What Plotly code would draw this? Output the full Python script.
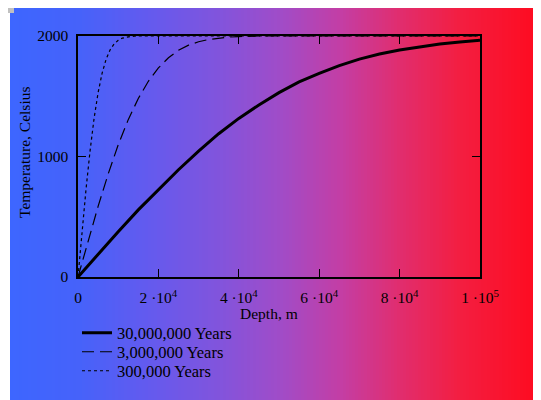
import plotly.graph_objects as go

# ---- data ----
depth_30my = [0, 5000, 10000, 15000, 20000, 25000, 30000, 35000, 40000, 45000, 50000,
              55000, 60000, 65000, 70000, 75000, 80000, 85000, 90000, 95000, 100000]
temp_30my = [0, 189, 376, 557, 725, 890, 1045, 1189, 1316, 1428, 1530,
             1619, 1690, 1754, 1808, 1850, 1884, 1912, 1934, 1951, 1964]

depth_3my = [0, 2500, 5000, 7500, 10000, 12500, 15000, 17500, 20000, 22500, 25000,
             27500, 30000, 32500, 35000, 37500, 40000, 45000, 100000]
temp_3my = [0, 298, 586, 854, 1097, 1306, 1481, 1624, 1735, 1819, 1882,
            1924, 1952, 1971, 1983, 1991, 1995, 2000, 2000]

depth_03my = [0, 1000, 2000, 3000, 4000, 5000, 6000, 7000, 8000, 9000, 10000,
              11000, 12000, 13000, 14000, 15000, 100000]
temp_03my = [0, 376, 730, 1047, 1316, 1530, 1692, 1808, 1886, 1935, 1964,
             1982, 1991, 1996, 1998, 2000, 2000]

series_names = ["30,000,000 Years", "3,000,000 Years", "300,000 Years"]

x_tickvals = [0, 20000, 40000, 60000, 80000, 100000]
x_ticktext = ["0", "2 ·10<sup>4</sup>", "4 ·10<sup>4</sup>", "6 ·10<sup>4</sup>",
              "8 ·10<sup>4</sup>", "1 ·10<sup>5</sup>"]
y_tickvals = [0, 1000, 2000]
y_ticktext = ["0", "1000", "2000"]
x_title = "Depth, m"
y_title = "Temperature, Celsius"

# ---- figure (page body has an 8px margin, so figure coords = page coords - 8) ----
OFF = 8
W, H = 533, 392
L, R, T, B = 70, 61, 28, 123
pw, ph = W - L - R, H - T - B

FONT = "Liberation Serif, Times New Roman, serif"

def px2paper_x(fx):
    return (fx - L) / pw

def px2paper_y(fy):
    return (H - B - fy) / ph

fig = go.Figure()
fig.add_trace(go.Scatter(x=depth_30my, y=temp_30my, mode="lines", name=series_names[0],
                         line=dict(color="black", width=3), legend="legend"))
fig.add_trace(go.Scatter(x=depth_3my, y=temp_3my, mode="lines", name=series_names[1],
                         line=dict(color="black", width=1.2, dash="12px,6px"), legend="legend2"))
fig.add_trace(go.Scatter(x=depth_03my, y=temp_03my, mode="lines", name=series_names[2],
                         line=dict(color="black", width=1.2, dash="3px,3px"), legend="legend3"))

# background gradient as thin strips
stops = [(10, (61, 102, 255)), (80, (70, 98, 250)), (150, (100, 90, 238)),
         (220, (130, 84, 220)), (280, (160, 76, 200)), (340, (195, 62, 165)),
         (400, (225, 45, 110)), (460, (243, 30, 65)), (541, (255, 10, 30))]

def color_at(page_x):
    for (x0, c0), (x1, c1) in zip(stops[:-1], stops[1:]):
        if x0 <= page_x <= x1:
            t = (page_x - x0) / (x1 - x0)
            return "rgb(%d,%d,%d)" % tuple(round(a + (b - a) * t) for a, b in zip(c0, c1))
    return "rgb(%d,%d,%d)" % stops[-1][1]

shapes = []
step = 3
fx = 10 - OFF
while fx < W:
    shapes.append(dict(type="rect", xref="paper", yref="paper",
                       x0=px2paper_x(fx), x1=px2paper_x(min(fx + step + 0.6, W + 2)),
                       y0=px2paper_y(H + 2), y1=px2paper_y(8 - OFF),
                       fillcolor=color_at(fx + OFF + step / 2), line=dict(width=0),
                       layer="below"))
    fx += step
# small gray square top-left
shapes.append(dict(type="rect", xref="paper", yref="paper",
                   x0=px2paper_x(8 - OFF), x1=px2paper_x(14 - OFF),
                   y0=px2paper_y(13 - OFF), y1=px2paper_y(8 - OFF),
                   fillcolor="rgb(192,192,192)", line=dict(width=0), layer="below"))

leg_common = dict(xanchor="left", yanchor="middle", bgcolor="rgba(0,0,0,0)",
                  font=dict(family=FONT, size=16.5, color="black"), itemwidth=30)
leg_x = px2paper_x(77 - OFF)

annotations = [
    dict(text=x_title, xref="paper", yref="paper",
         x=px2paper_x(269 - OFF), y=px2paper_y(313 - OFF),
         xanchor="center", yanchor="middle", showarrow=False,
         font=dict(family=FONT, size=15.5, color="black")),
    dict(text=y_title, xref="paper", yref="paper", textangle=-90,
         x=px2paper_x(24 - OFF), y=px2paper_y(152 - OFF),
         xanchor="center", yanchor="middle", showarrow=False,
         font=dict(family=FONT, size=15.5, color="black")),
]

fig.update_layout(
    width=W, height=H,
    margin=dict(l=L, r=R, t=T, b=B, autoexpand=False),
    paper_bgcolor="white",
    plot_bgcolor="rgba(0,0,0,0)",
    font=dict(family=FONT, size=15.5, color="black"),
    shapes=shapes,
    annotations=annotations,
    showlegend=True,
    legend=dict(x=leg_x, y=px2paper_y(333 - OFF), **leg_common),
    legend2=dict(x=leg_x, y=px2paper_y(352 - OFF), **leg_common),
    legend3=dict(x=leg_x, y=px2paper_y(371 - OFF), **leg_common),
    xaxis=dict(range=[0, 100000], tickvals=x_tickvals, ticktext=x_ticktext,
               showgrid=False, zeroline=False, showline=True, linecolor="black",
               linewidth=1.5, mirror="ticks", ticks="inside", ticklen=8,
               tickwidth=1.2, tickcolor="black", ticklabelstandoff=6),
    yaxis=dict(range=[0, 2000], tickvals=y_tickvals, ticktext=y_ticktext,
               showgrid=False, zeroline=False, showline=True, linecolor="black",
               linewidth=1.5, mirror="ticks", ticks="inside", ticklen=8,
               tickwidth=1.2, tickcolor="black", ticklabelstandoff=5),
)

fig.write_html("out.html")
